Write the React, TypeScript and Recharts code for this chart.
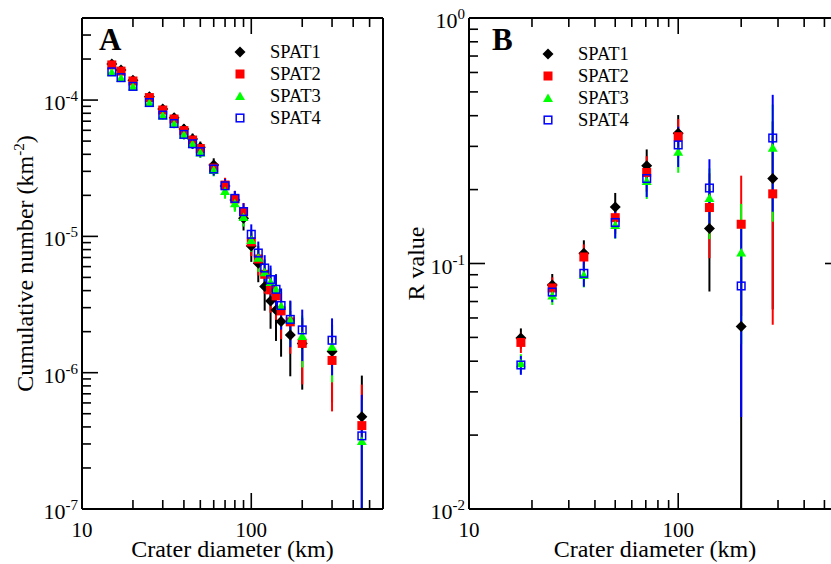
import React from 'react'
import { ScatterChart, Scatter, XAxis, YAxis, ErrorBar, Legend } from 'recharts'

const FONT = '"Liberation Serif", "Times New Roman", Times, serif'

// Panel A: cumulative crater number (km^-2) vs diameter (km)
const diamA = [15, 17, 20, 25, 30, 35, 40, 45, 50, 60, 70, 80, 90, 100, 110, 120, 130, 140, 150, 170, 200, 300, 450]
const spat1A = [1.84e-4, 1.66e-4, 1.40e-4, 1.057e-4, 8.59e-5, 7.42e-5, 6.13e-5, 5.18e-5, 4.50e-5, 3.34e-5, 2.34e-5, 1.85e-5, 1.36e-5, 8.51e-6, 6.35e-6, 4.28e-6, 3.36e-6, 2.88e-6, 2.37e-6, 1.89e-6, 1.64e-6, 1.43e-6, 4.76e-7]
const spat2A = [1.81e-4, 1.63e-4, 1.38e-4, 1.043e-4, 8.45e-5, 7.26e-5, 5.97e-5, 5.09e-5, 4.41e-5, 3.17e-5, 2.38e-5, 1.88e-5, 1.51e-5, 9.10e-6, 6.83e-6, 5.27e-6, 4.05e-6, 3.66e-6, 2.84e-6, 2.36e-6, 1.64e-6, 1.23e-6, 4.09e-7]
const spat3A = [1.60e-4, 1.45e-4, 1.256e-4, 9.51e-5, 7.70e-5, 6.67e-5, 5.56e-5, 4.76e-5, 4.13e-5, 3.07e-5, 2.15e-5, 1.75e-5, 1.39e-5, 9.42e-6, 6.98e-6, 5.45e-6, 4.63e-6, 4.11e-6, 3.09e-6, 2.44e-6, 1.86e-6, 1.55e-6, 3.16e-7]
const spat4A = [1.61e-4, 1.46e-4, 1.26e-4, 9.59e-5, 7.76e-5, 6.73e-5, 5.60e-5, 4.78e-5, 4.18e-5, 3.12e-5, 2.35e-5, 1.90e-5, 1.52e-5, 1.036e-5, 7.55e-6, 5.86e-6, 4.82e-6, 4.09e-6, 3.11e-6, 2.46e-6, 2.06e-6, 1.73e-6, 3.44e-7]
const err1A = [9.36e-6, 8.89e-6, 8.16e-6, 7.09e-6, 6.40e-6, 5.94e-6, 5.40e-6, 4.97e-6, 4.63e-6, 3.99e-6, 3.34e-6, 2.97e-6, 2.55e-6, 2.01e-6, 1.74e-6, 1.43e-6, 1.26e-6, 1.17e-6, 1.06e-6, 9.49e-7, 8.89e-7, 8.25e-7, 4.76e-7]
const err2A = [8.61e-6, 8.17e-6, 7.52e-6, 6.54e-6, 5.88e-6, 5.46e-6, 4.95e-6, 4.57e-6, 4.25e-6, 3.60e-6, 3.12e-6, 2.78e-6, 2.49e-6, 1.93e-6, 1.67e-6, 1.47e-6, 1.29e-6, 1.22e-6, 1.08e-6, 9.83e-7, 8.20e-7, 7.10e-7, 4.09e-7]
const err3A = [7.12e-6, 6.77e-6, 6.30e-6, 5.49e-6, 4.94e-6, 4.59e-6, 4.19e-6, 3.88e-6, 3.62e-6, 3.12e-6, 2.61e-6, 2.35e-6, 2.10e-6, 1.73e-6, 1.49e-6, 1.31e-6, 1.21e-6, 1.14e-6, 9.89e-7, 8.79e-7, 7.67e-7, 7.00e-7, 3.16e-7]
const err4A = [7.45e-6, 7.10e-6, 6.59e-6, 5.75e-6, 5.17e-6, 4.82e-6, 4.39e-6, 4.06e-6, 3.80e-6, 3.28e-6, 2.85e-6, 2.56e-6, 2.29e-6, 1.89e-6, 1.61e-6, 1.42e-6, 1.29e-6, 1.19e-6, 1.04e-6, 9.21e-7, 8.43e-7, 7.73e-7, 3.44e-7]

// Panel B: R value vs diameter (km)
const diamB = [17.7, 25, 35.4, 50, 70.7, 100, 141, 200, 283]
const spat1B = [0.0497, 0.0817, 0.110, 0.170, 0.250, 0.339, 0.139, 0.0554, 0.222]
const spat2B = [0.0477, 0.0795, 0.1063, 0.1537, 0.2348, 0.3285, 0.169, 0.1445, 0.1922]
const spat3B = [0.0392, 0.0741, 0.0898, 0.1435, 0.2168, 0.2853, 0.1848, 0.1109, 0.296]
const spat4B = [0.0386, 0.0765, 0.0912, 0.1469, 0.2219, 0.304, 0.203, 0.081, 0.3245]
const err1B = [0.0047, 0.0089, 0.0143, 0.0238, 0.0415, 0.0634, 0.0621, 0.0554, 0.157]
const err2B = [0.0045, 0.0083, 0.0133, 0.0215, 0.0387, 0.059, 0.0639, 0.0834, 0.1359]
const err3B = [0.0035, 0.0063, 0.0099, 0.0172, 0.0336, 0.0511, 0.0591, 0.064, 0.148]
const err4B = [0.0034, 0.0069, 0.0108, 0.0203, 0.0355, 0.0568, 0.0629, 0.0573, 0.162]

// axis ranges and the decades that carry a label
const xDomain = [10, 600]
const yDomainA = [1e-7, 4e-4]
const yDomainB = [0.01, 1]
const xDecades = [10, 100]
const yDecadesA = [1e-7, 1e-6, 1e-5, 1e-4]
const yDecadesB = [0.01, 0.1, 1]

const SERIES = [
  { name: 'SPAT1', kind: 'diamond', color: '#000000' },
  { name: 'SPAT2', kind: 'square', color: '#ff0000' },
  { name: 'SPAT3', kind: 'triangle', color: '#00ff00' },
  { name: 'SPAT4', kind: 'open', color: '#0000ff' },
]

// 1..9 times each decade, cut to the domain
const logTicks = (decades: number[], max: number) => {
  const out: number[] = []
  decades.forEach(d => {
    for (let k = 1; k <= 9; k++) {
      const v = +(d * k).toPrecision(6)
      if (v <= max * 1.0001) out.push(v)
    }
  })
  return out
}
const xTicks = logTicks(xDecades, xDomain[1])
const yTicksA = logTicks(yDecadesA, yDomainA[1])
const yTicksB = logTicks(yDecadesB, yDomainB[1])

const isDecade = (v: number) => Math.abs(Math.log10(v) - Math.round(Math.log10(v))) < 1e-6

// error bars that would cross zero stop at the bottom of the frame
const build = (xs: number[], ys: number[], es: number[], yMin: number) =>
  xs.map((d, i) => ({ d, n: ys[i], err: [Math.min(es[i], ys[i] - yMin), es[i]] }))

const dataA = [
  build(diamA, spat1A, err1A, yDomainA[0]),
  build(diamA, spat2A, err2A, yDomainA[0]),
  build(diamA, spat3A, err3A, yDomainA[0]),
  build(diamA, spat4A, err4A, yDomainA[0]),
]
const dataB = [
  build(diamB, spat1B, err1B, yDomainB[0]),
  build(diamB, spat2B, err2B, yDomainB[0]),
  build(diamB, spat3B, err3B, yDomainB[0]),
  build(diamB, spat4B, err4B, yDomainB[0]),
]

const Marker = ({ kind, cx, cy }: any) => {
  if (cx == null || cy == null) return null
  switch (kind) {
    case 'diamond':
      return <polygon points={`${cx},${cy - 5.5} ${cx + 5.5},${cy} ${cx},${cy + 5.5} ${cx - 5.5},${cy}`} fill="#000000" />
    case 'square':
      return <rect x={cx - 4.5} y={cy - 4.5} width={9} height={9} fill="#ff0000" />
    case 'triangle':
      return <polygon points={`${cx},${cy - 4.5} ${cx + 5},${cy + 4} ${cx - 5},${cy + 4}`} fill="#00ff00" />
    default:
      return <rect x={cx - 3.8} y={cy - 3.8} width={7.6} height={7.6} fill="none" stroke="#0000ff" strokeWidth={1.5} />
  }
}

const MAJOR = 16
const MINOR = 9

const BottomTick = ({ x, y, payload }: any) => {
  const major = isDecade(payload.value)
  return (
    <g>
      <line x1={x} y1={y} x2={x} y2={y - (major ? MAJOR : MINOR)} stroke="#000" strokeWidth={1.6} />
      {major && (
        <text x={x} y={y + 28} textAnchor="middle" fontFamily={FONT} fontSize={21} fill="#000">
          {payload.value}
        </text>
      )}
    </g>
  )
}

const TopTick = ({ x, y, payload }: any) => {
  const major = isDecade(payload.value)
  return <line x1={x} y1={y} x2={x} y2={y + (major ? MAJOR : MINOR)} stroke="#000" strokeWidth={1.6} />
}

const makeLeftTick = (gap: number) => ({ x, y, payload }: any) => {
  const v = payload.value
  const major = isDecade(v)
  return (
    <g>
      <line x1={x} y1={y} x2={x + (major ? MAJOR : MINOR)} y2={y} stroke="#000" strokeWidth={1.6} />
      {major && (
        <text x={x - gap} y={y + 10} textAnchor="end" fontFamily={FONT} fontSize={22} fill="#000">
          10
          <tspan dy={-9} fontSize={15}>{String(Math.round(Math.log10(v)))}</tspan>
        </text>
      )}
    </g>
  )
}

const RightTick = ({ x, y, payload }: any) => {
  const major = isDecade(payload.value)
  return <line x1={x} y1={y} x2={x - (major ? MAJOR : MINOR)} y2={y} stroke="#000" strokeWidth={1.6} />
}

const LegendBox = () => (
  <svg width={130} height={92}>
    {SERIES.map((s, i) => (
      <g key={s.name}>
        <Marker kind={s.kind} cx={10} cy={10 + i * 22} />
        <text x={40} y={16 + i * 22} fontFamily={FONT} fontSize={18.5} fill="#000">
          {s.name}
        </text>
      </g>
    ))}
  </svg>
)

const xTitle = (props: any) => {
  const vb = props.viewBox || {}
  return (
    <text x={vb.x + vb.width / 2} y={vb.y + 48} textAnchor="middle" fontFamily={FONT} fontSize={24} fill="#000">
      Crater diameter (km)
    </text>
  )
}

const panelLetter = (letter: string, dx: number) => (props: any) => {
  const vb = props.viewBox || {}
  return (
    <text x={vb.x + dx} y={vb.y + vb.height + 32} fontFamily={FONT} fontSize={31} fontWeight="bold" fill="#000">
      {letter}
    </text>
  )
}

const yTitleA = (props: any) => {
  const vb = props.viewBox || {}
  const cx = vb.x + vb.width - 49
  const cy = vb.y + vb.height / 2
  return (
    <text x={cx} y={cy} transform={`rotate(-90 ${cx} ${cy})`} textAnchor="middle" fontFamily={FONT} fontSize={24} fill="#000">
      Cumulative number (km
      <tspan dy={-9} fontSize={15}>-2</tspan>
      <tspan dy={9}>)</tspan>
    </text>
  )
}

const yTitleB = (props: any) => {
  const vb = props.viewBox || {}
  const cx = vb.x + vb.width - 45
  const cy = vb.y + vb.height / 2
  return (
    <text x={cx} y={cy} transform={`rotate(-90 ${cx} ${cy})`} textAnchor="middle" fontFamily={FONT} fontSize={24} fill="#000">
      R value
    </text>
  )
}

const axisLine = { stroke: '#000', strokeWidth: 2 }

function Panel({ data, yDomain, yTicks, width, margin, letter, letterDx, yTitle, tickGap, legendPos, rightTicks }: any) {
  return (
    <ScatterChart width={width} height={564} margin={margin}>
      <XAxis
        xAxisId={0}
        dataKey="d"
        type="number"
        scale="log"
        domain={xDomain}
        allowDataOverflow
        ticks={xTicks}
        interval={0}
        height={1}
        tickSize={0}
        tickMargin={0}
        tickLine={false}
        axisLine={axisLine}
        tick={<BottomTick />}
        label={xTitle}
      />
      <XAxis
        xAxisId="top"
        orientation="top"
        dataKey="d"
        type="number"
        scale="log"
        domain={xDomain}
        allowDataOverflow
        ticks={xTicks}
        interval={0}
        height={1}
        tickSize={0}
        tickMargin={0}
        tickLine={false}
        axisLine={axisLine}
        tick={<TopTick />}
        label={panelLetter(letter, letterDx)}
      />
      <YAxis
        yAxisId={0}
        dataKey="n"
        type="number"
        scale="log"
        domain={yDomain}
        allowDataOverflow
        ticks={yTicks}
        interval={0}
        width={1}
        tickSize={0}
        tickMargin={0}
        tickLine={false}
        axisLine={axisLine}
        tick={makeLeftTick(tickGap)}
        label={yTitle}
      />
      <YAxis
        yAxisId="right"
        orientation="right"
        dataKey="n"
        type="number"
        scale="log"
        domain={yDomain}
        allowDataOverflow
        ticks={yTicks}
        interval={0}
        width={1}
        tickSize={0}
        tickMargin={0}
        tickLine={false}
        axisLine={axisLine}
        tick={rightTicks ? <RightTick /> : false}
      />
      <Legend
        layout="vertical"
        align="center"
        verticalAlign="middle"
        content={() => <LegendBox />}
        wrapperStyle={{ left: legendPos[0], top: legendPos[1], width: 130, height: 92 }}
      />
      {SERIES.map((s, i) => (
        <Scatter
          key={s.name}
          name={s.name}
          data={data[i]}
          xAxisId={0}
          yAxisId={0}
          fill={s.color}
          isAnimationActive={false}
          shape={(p: any) => <Marker kind={s.kind} cx={p.cx} cy={p.cy} />}
        >
          <ErrorBar dataKey="err" direction="y" width={0} stroke={s.color} strokeWidth={2} isAnimationActive={false} />
        </Scatter>
      ))}
    </ScatterChart>
  )
}

export default function App() {
  return (
    <div style={{ position: 'fixed', left: 0, top: 0, width: 831, height: 564, overflow: 'hidden', background: '#fff' }}>
      <div style={{ position: 'absolute', left: 0, top: 0 }}>
        <Panel
          data={dataA}
          yDomain={yDomainA}
          yTicks={yTicksA}
          width={400}
          margin={{ top: 17, right: 16, bottom: 54, left: 81 }}
          letter="A"
          letterDx={17}
          yTitle={yTitleA}
          tickGap={4}
          legendPos={[230, 42]}
          rightTicks={false}
        />
      </div>
      <div style={{ position: 'absolute', left: 400, top: 0 }}>
        <Panel
          data={dataB}
          yDomain={yDomainB}
          yTicks={yTicksB}
          width={442}
          margin={{ top: 17, right: 0, bottom: 54, left: 68 }}
          letter="B"
          letterDx={23}
          yTitle={yTitleB}
          tickGap={4}
          legendPos={[138, 44]}
          rightTicks
        />
      </div>
    </div>
  )
}
